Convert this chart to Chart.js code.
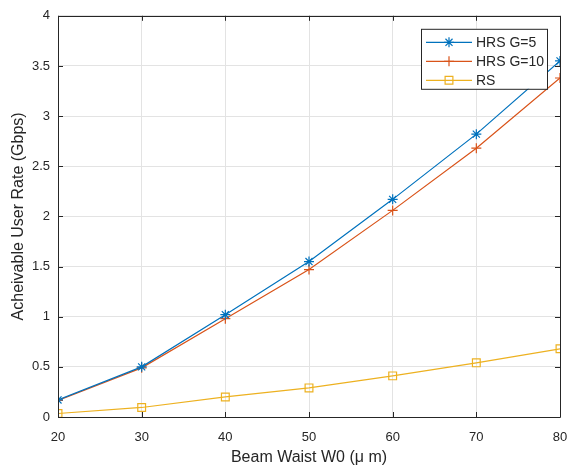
<!DOCTYPE html>
<html>
<head>
<meta charset="utf-8">
<script src="https://cdn.jsdelivr.net/npm/chart.js@4/dist/chart.umd.min.js"></script>
<style>
  html, body { margin: 0; padding: 0; background: #fff; }
  #wrap { width: 568px; height: 469px; }
</style>
</head>
<body>
<div id="wrap"><canvas id="grafico" width="568" height="469"></canvas></div>
<script>
// datos
const cintura = [20, 30, 40, 50, 60, 70, 80];
const hrsG5 = [0.17, 0.50, 1.02, 1.55, 2.17, 2.82, 3.55];
const hrsG10 = [0.165, 0.49, 0.98, 1.47, 2.06, 2.68, 3.38];
const rs = [0.035, 0.095, 0.20, 0.29, 0.41, 0.54, 0.68];
const ticksX = [20, 30, 40, 50, 60, 70, 80];
const ticksY = [0, 0.5, 1, 1.5, 2, 2.5, 3, 3.5, 4];

const fuente = "'Liberation Sans', Arial, Helvetica, sans-serif";
const gris = "#262626";

function puntos(ys) {
  return cintura.map((x, i) => ({ x: x, y: ys[i] }));
}

// caja del eje y marcas hacia adentro (estilo matlab)
const cajaEjes = {
  id: "cajaEjes",
  afterDraw(chart) {
    const ctx = chart.ctx;
    const a = chart.chartArea;
    const sx = chart.scales.x;
    const sy = chart.scales.y;
    ctx.save();
    ctx.strokeStyle = gris;
    ctx.lineWidth = 1;
    ctx.beginPath();
    ctx.rect(Math.round(a.left) + 0.5, Math.round(a.top) + 0.5,
      Math.round(a.right - a.left), Math.round(a.bottom - a.top));
    ctx.stroke();
    const largo = 5;
    ctx.beginPath();
    for (const v of ticksX) {
      const px = Math.round(sx.getPixelForValue(v)) + 0.5;
      ctx.moveTo(px, a.bottom); ctx.lineTo(px, a.bottom - largo);
      ctx.moveTo(px, a.top); ctx.lineTo(px, a.top + largo);
    }
    for (const v of ticksY) {
      const py = Math.round(sy.getPixelForValue(v)) + 0.5;
      ctx.moveTo(a.left, py); ctx.lineTo(a.left + largo, py);
      ctx.moveTo(a.right, py); ctx.lineTo(a.right - largo, py);
    }
    ctx.stroke();
    ctx.restore();
  }
};

// leyenda dibujada a mano, con linea y marcador
const leyenda = {
  id: "leyenda",
  afterDraw(chart) {
    const ctx = chart.ctx;
    const a = chart.chartArea;
    const x0 = a.right - 139, y0 = a.top + 13;
    const w = 126, h = 60;
    ctx.save();
    ctx.fillStyle = "#fff";
    ctx.fillRect(x0, y0, w, h);
    ctx.strokeStyle = gris;
    ctx.lineWidth = 1;
    ctx.strokeRect(x0 + 0.5, y0 + 0.5, w, h);
    ctx.font = "14px " + fuente;
    ctx.textBaseline = "middle";
    chart.data.datasets.forEach((ds, i) => {
      const y = y0 + 13 + i * 19;
      ctx.strokeStyle = ds.borderColor;
      ctx.lineWidth = ds.borderWidth;
      ctx.beginPath();
      ctx.moveTo(x0 + 5, y + 0.5);
      ctx.lineTo(x0 + 51, y + 0.5);
      ctx.stroke();
      ctx.fillStyle = "rgba(0,0,0,0)";
      Chart.helpers.drawPoint(ctx, {
        pointStyle: ds.pointStyle,
        radius: ds.pointRadius,
        borderWidth: 1,
        rotation: 0
      }, x0 + 28, y + 0.5);
      ctx.fillStyle = gris;
      ctx.fillText(ds.label, x0 + 55, y + 1);
    });
    ctx.restore();
  }
};

const ctx = document.getElementById("grafico").getContext("2d");
new Chart(ctx, {
  type: "line",
  data: {
    datasets: [
      {
        label: "HRS G=5",
        data: puntos(hrsG5),
        borderColor: "#0072BD",
        backgroundColor: "transparent",
        pointStyle: "star",
        pointRadius: 5,
        borderWidth: 1.2,
        pointBorderWidth: 1.2
      },
      {
        label: "HRS G=10",
        data: puntos(hrsG10),
        borderColor: "#D95319",
        backgroundColor: "transparent",
        pointStyle: "cross",
        pointRadius: 5,
        borderWidth: 1.2,
        pointBorderWidth: 1.2
      },
      {
        label: "RS",
        data: puntos(rs),
        borderColor: "#EDB120",
        backgroundColor: "transparent",
        pointStyle: "rect",
        pointRadius: 5.5,
        borderWidth: 1.2,
        pointBorderWidth: 1.2
      }
    ]
  },
  options: {
    responsive: false,
    animation: false,
    layout: { padding: { top: 15, right: 0, left: 0, bottom: 0 } },
    plugins: { legend: { display: false }, tooltip: { enabled: false } },
    scales: {
      x: {
        type: "linear",
        min: 20,
        max: 80,
        afterBuildTicks(scale) { scale.ticks = ticksX.map(v => ({ value: v })); },
        afterFit(scale) {
          scale.height = 52;
          scale.paddingLeft = 0;
          scale.paddingRight = 8; // el 80 queda pegado al borde
        },
        grid: { color: "#e3e3e3", drawTicks: false },
        border: { display: false },
        ticks: {
          color: gris,
          padding: 13,
          font: { family: fuente, size: 13 },
          callback: v => String(v)
        },
        title: {
          display: true,
          text: "Beam Waist W0 (μ m)",
          color: gris,
          padding: { top: 0, bottom: 2 },
          font: { family: fuente, size: 16 }
        }
      },
      y: {
        min: 0,
        max: 4,
        afterBuildTicks(scale) { scale.ticks = ticksY.map(v => ({ value: v })); },
        afterFit(scale) { scale.width = 58; },
        grid: { color: "#e3e3e3", drawTicks: false },
        border: { display: false },
        ticks: {
          color: gris,
          padding: 8,
          font: { family: fuente, size: 13 },
          callback: v => String(v)
        },
        title: {
          display: true,
          text: "Acheivable User Rate (Gbps)",
          color: gris,
          padding: { top: 9, bottom: 0 },
          font: { family: fuente, size: 16 }
        }
      }
    }
  },
  plugins: [cajaEjes, leyenda]
});
</script>
</body>
</html>
